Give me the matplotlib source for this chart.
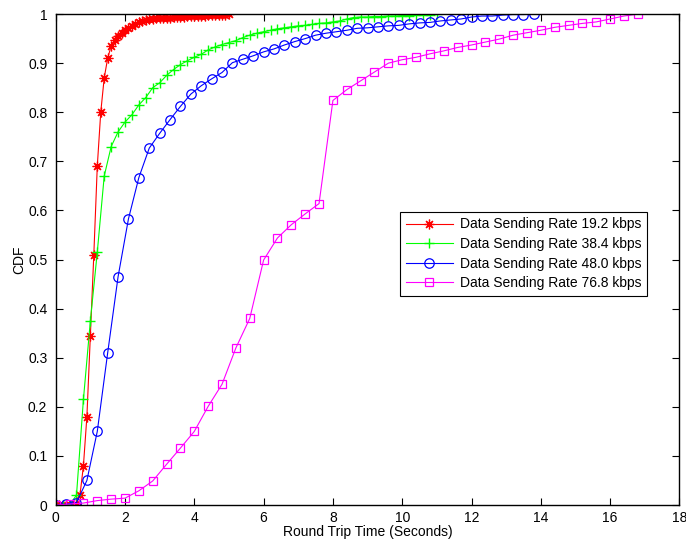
import matplotlib
matplotlib.use('Agg')
import matplotlib.pyplot as plt

plt.rcParams['font.family'] = ['Liberation Sans', 'DejaVu Sans']

# round trip time (s) and CDF for each data sending rate
rtt_192 = [0.0, 0.1, 0.2, 0.3, 0.4, 0.5, 0.6, 0.7, 0.8, 0.9,
           1.0, 1.1, 1.2, 1.3, 1.4, 1.5, 1.6, 1.7, 1.8, 1.9,
           2.0, 2.1, 2.2, 2.3, 2.4, 2.5, 2.6, 2.7, 2.8, 2.9,
           3.0, 3.1, 3.2, 3.3, 3.4, 3.5, 3.6, 3.7, 3.8, 3.9,
           4.0, 4.1, 4.2, 4.3, 4.4, 4.5, 4.6, 4.7, 4.8, 4.9, 5.0]
cdf_192 = [0.0, 0.0, 0.0, 0.0, 0.0, 0.001, 0.003, 0.02, 0.08, 0.18,
           0.345, 0.51, 0.69, 0.80, 0.87, 0.91, 0.935, 0.948, 0.956, 0.962,
           0.967, 0.972, 0.976, 0.980, 0.983, 0.985, 0.987, 0.989, 0.990, 0.991,
           0.992, 0.992, 0.993, 0.993, 0.994, 0.994, 0.995, 0.995, 0.996, 0.996,
           0.996, 0.997, 0.997, 0.997, 0.998, 0.998, 0.998, 0.999, 0.999, 0.999, 1.0]

rtt_384 = [0.0, 0.2, 0.4, 0.6, 0.8, 1.0, 1.2, 1.4, 1.6, 1.8,
           2.0, 2.2, 2.4, 2.6, 2.8, 3.0, 3.2, 3.4, 3.6, 3.8,
           4.0, 4.2, 4.4, 4.6, 4.8, 5.0, 5.2, 5.4, 5.6, 5.8,
           6.0, 6.2, 6.4, 6.6, 6.8, 7.0, 7.2, 7.4, 7.6, 7.8,
           8.0, 8.2, 8.4, 8.6, 8.8, 9.0, 9.2, 9.4, 9.6, 9.8,
           10.0, 10.2, 10.4, 10.6, 10.8, 11.0]
cdf_384 = [0.0, 0.0, 0.001, 0.02, 0.215, 0.375, 0.515, 0.67, 0.73, 0.76,
           0.78, 0.795, 0.815, 0.83, 0.85, 0.86, 0.875, 0.887, 0.897, 0.905,
           0.912, 0.918, 0.927, 0.933, 0.938, 0.942, 0.946, 0.952, 0.957, 0.961,
           0.964, 0.967, 0.970, 0.972, 0.974, 0.976, 0.977, 0.979, 0.981, 0.982,
           0.984, 0.986, 0.990, 0.993, 0.994, 0.994, 0.995, 0.995, 0.996, 0.996,
           0.997, 0.997, 0.998, 0.998, 0.999, 1.0]

rtt_480 = [0.0, 0.3, 0.6, 0.9, 1.2, 1.5, 1.8, 2.1, 2.4, 2.7,
           3.0, 3.3, 3.6, 3.9, 4.2, 4.5, 4.8, 5.1, 5.4, 5.7,
           6.0, 6.3, 6.6, 6.9, 7.2, 7.5, 7.8, 8.1, 8.4, 8.7,
           9.0, 9.3, 9.6, 9.9, 10.2, 10.5, 10.8, 11.1, 11.4, 11.7,
           12.0, 12.3, 12.6, 12.9, 13.2, 13.5, 13.8]
cdf_480 = [0.0, 0.002, 0.005, 0.05, 0.15, 0.31, 0.465, 0.583, 0.667, 0.727,
           0.757, 0.785, 0.812, 0.837, 0.854, 0.868, 0.881, 0.901, 0.908, 0.915,
           0.923, 0.929, 0.937, 0.944, 0.950, 0.957, 0.961, 0.964, 0.967, 0.971,
           0.972, 0.974, 0.976, 0.977, 0.980, 0.982, 0.983, 0.986, 0.988, 0.990,
           0.994, 0.996, 0.996, 0.998, 0.999, 0.999, 1.0]

rtt_768 = [0.0, 0.4, 0.8, 1.2, 1.6, 2.0, 2.4, 2.8, 3.2, 3.6,
           4.0, 4.4, 4.8, 5.2, 5.6, 6.0, 6.4, 6.8, 7.2, 7.6,
           8.0, 8.4, 8.8, 9.2, 9.6, 10.0, 10.4, 10.8, 11.2, 11.6,
           12.0, 12.4, 12.8, 13.2, 13.6, 14.0, 14.4, 14.8, 15.2, 15.6,
           16.0, 16.4, 16.8]
cdf_768 = [0.0, 0.002, 0.004, 0.009, 0.012, 0.014, 0.029, 0.049, 0.083, 0.116,
           0.150, 0.201, 0.246, 0.32, 0.38, 0.499, 0.544, 0.571, 0.593, 0.614,
           0.824, 0.846, 0.864, 0.882, 0.90, 0.907, 0.912, 0.919, 0.925, 0.932,
           0.937, 0.943, 0.949, 0.957, 0.962, 0.967, 0.973, 0.977, 0.981, 0.984,
           0.990, 0.996, 1.0]

labels = ['Data Sending Rate 19.2 kbps', 'Data Sending Rate 38.4 kbps',
          'Data Sending Rate 48.0 kbps', 'Data Sending Rate 76.8 kbps']

fig = plt.figure(figsize=(6.86, 5.41), dpi=100)
ax = fig.add_axes([0.0812, 0.0665, 0.9092, 0.9075])

# matlab style '*' is a plus and a cross on top of each other
ax.plot(rtt_192, cdf_192, color='#ff0000', marker=(8, 2, 0), markersize=7, mew=0.9, lw=0.8, label=labels[0])
ax.plot(rtt_384, cdf_384, color='#00ff00', marker='+', markersize=7.5, mew=1, lw=0.8, label=labels[1])
ax.plot(rtt_480, cdf_480, color='#0000ff', marker='o', markersize=6.8, mfc='none', mew=0.9, lw=0.8, label=labels[2])
ax.plot(rtt_768, cdf_768, color='#ff00ff', marker='s', markersize=6, mfc='none', mew=0.9, lw=0.8, label=labels[3])

ax.set_xlim(0, 18)
ax.set_ylim(0, 1)
ax.set_xticks(range(0, 19, 2))
ax.set_yticks([0, 0.1, 0.2, 0.3, 0.4, 0.5, 0.6, 0.7, 0.8, 0.9, 1])
ax.set_yticklabels(['0', '0.1', '0.2', '0.3', '0.4', '0.5', '0.6', '0.7', '0.8', '0.9', '1'])
ax.tick_params(direction='in', top=True, right=True, labelsize=10, length=5, width=0.8)
ax.tick_params(axis='x', pad=4)
ax.tick_params(axis='y', pad=6)
for s in ax.spines.values():
    s.set_linewidth(1.0)

ax.set_xlabel('Round Trip Time (Seconds)', fontsize=10, labelpad=0)
ax.set_ylabel('CDF', fontsize=10, labelpad=1)

leg = ax.legend(loc='upper left', bbox_to_anchor=(0.552, 0.597), borderaxespad=0,
                fontsize=10, fancybox=False, framealpha=1, edgecolor='black',
                handlelength=3.4, labelspacing=0.4, borderpad=0.4, handletextpad=0.5)
leg.get_frame().set_linewidth(0.8)

fig.savefig('out.png', dpi=100)
